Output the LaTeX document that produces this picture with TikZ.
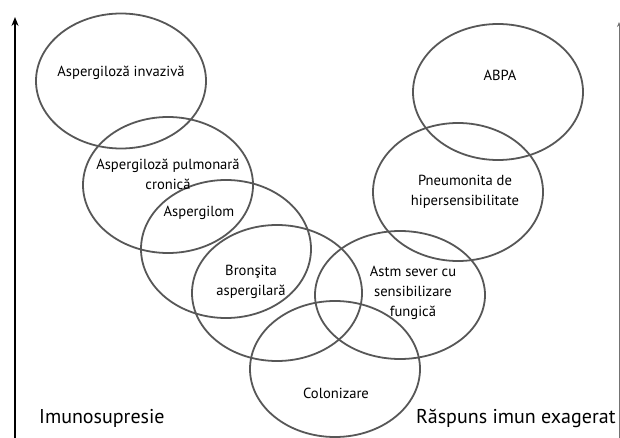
\documentclass[tikz,border=0pt]{standalone}
\usepackage{fontspec}
\setmainfont{PT Sans}
\usetikzlibrary{shapes.geometric,arrows.meta}

\tikzset{
  ring/.style={draw=black!66,line width=1.8pt,ellipse,inner sep=0pt,minimum width=170pt,minimum height=136pt},
  lbl/.style={align=center,font=\fontsize{14.6}{20}\selectfont,inner sep=0pt},
  axislbl/.style={anchor=west,font=\fontsize{20}{22}\selectfont,inner sep=0pt}
}

\begin{document}
\begin{tikzpicture}[x=1pt,y=-1pt]
  \useasboundingbox (0,0) rectangle (620,438);
  % axes
  \coordinate (lo) at (15,440);
  \coordinate (hi) at (15,17);
  \draw[line width=2.6pt,-{Stealth[length=9pt,width=7pt]}] (lo) -- (hi);
  \coordinate (rlo) at (619,440);
  \coordinate (rhi) at (619,22);
  \draw[black!55,line width=1pt,-{Stealth[length=5pt,width=4pt]}] (rlo) -- (rhi);
  % overlapping ellipses
  \foreach \name/\x/\y/\ry in {inv/121/81/135, pulm/168/185/136, asp/226/249/138, bron/277/293/136,
                               col/335/369/136, astm/400/295/128, pneu/458/192/138, abpa/498/92/136}
    \node[ring,minimum height=\ry pt] (\name) at (\x,\y) {};
  % texts
  \node[lbl] (tinv) at (121,73) {Aspergiloză invazivă};
  \node[lbl] (tpulm) at (168,174) {Aspergiloză pulmonară\\cronică};
  \node[lbl] (tasp) at (199,213) {Aspergilom};
  \node[lbl] (tbron) at (251,282) {Bronşita\\aspergilară};
  \node[lbl] (tcol) at (336,393) {Colonizare};
  \node[lbl] (tastm) at (413,293) {Astm sever cu\\sensibilizare\\fungică};
  \node[lbl] (tpneu) at (465,192) {Pneumonita de\\hipersensibilitate};
  \node[lbl] (tabpa) at (500,75) {ABPA};
  \node[axislbl] (imuno) at (39,418) {Imunosupresie};
  \node[axislbl] (exag) at (416,418) {Răspuns imun exagerat};
\end{tikzpicture}
\end{document}
